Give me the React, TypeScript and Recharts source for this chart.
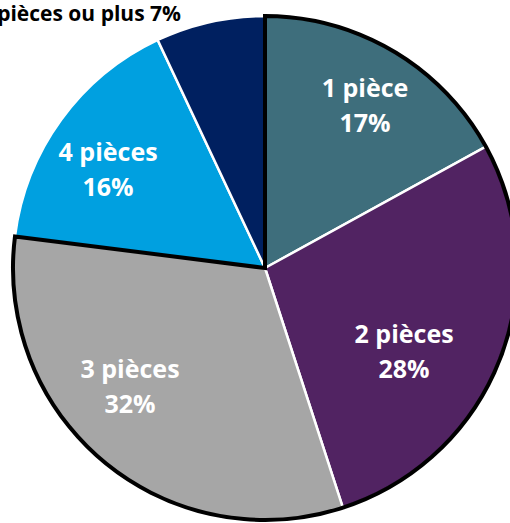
import React from 'react';
import { PieChart, Pie, Cell } from 'recharts';

// ---- data ----
const categories = ['1 pièce', '2 pièces', '3 pièces', '4 pièces', '5 pièces ou plus'];
const shares = [17, 28, 32, 16, 7];
const colors = ['#3E6E7C', '#512362', '#A6A6A6', '#00A0E0', '#002060'];
const outlined = [true, true, true, false, false];

const data = categories.map((name, i) => ({ name, value: shares[i] }));
const outlineData = [
  { name: 'outlined', value: shares.filter((_, i) => outlined[i]).reduce((a, b) => a + b, 0) },
  { name: 'rest', value: shares.filter((_, i) => !outlined[i]).reduce((a, b) => a + b, 0) },
];

// ---- label layout (radius fraction, angle shift in degrees, inside/outside) ----
const labelLayout = [
  { r: 0.755, shift: -1.1, inside: true },
  { r: 0.644, shift: -9.4, inside: true },
  { r: 0.714, shift: -9.0, inside: true },
  { r: 0.735, shift: 3.9, inside: true },
  { r: 1.035, shift: 6.2, inside: false },
];

const RAD = Math.PI / 180;
const FONT = '"Open Sans", "DejaVu Sans", sans-serif';

const renderLabel = (props: any) => {
  const { cx, cy, midAngle, outerRadius, index, name, value } = props;
  const lay = labelLayout[index];
  const ang = (midAngle + lay.shift) * RAD;
  const r = outerRadius * lay.r;
  const x = cx + r * Math.cos(-ang);
  const y = cy + r * Math.sin(-ang);
  if (lay.inside) {
    return (
      <text
        key={`lbl-${index}`}
        x={x}
        y={y}
        textAnchor="middle"
        fill="#FFFFFF"
        fontFamily={FONT}
        fontWeight={700}
        fontSize={25}
      >
        <tspan x={x} y={y - 9}>{name}</tspan>
        <tspan x={x} y={y + 26}>{`${value}%`}</tspan>
      </text>
    );
  }
  return (
    <text
      key={`lbl-${index}`}
      x={x}
      y={y}
      textAnchor="end"
      fill="#000000"
      fontFamily={FONT}
      fontWeight={700}
      fontSize={21}
    >
      {`${name} ${value}%`}
    </text>
  );
};

export default function App() {
  return (
    <div style={{ position: 'absolute', left: 0, top: 0, width: 510, height: 523, background: '#FFFFFF', overflow: 'hidden' }}>
      <PieChart width={510} height={523} margin={{ top: 0, right: 0, bottom: 0, left: 0 }}>
        <Pie
          data={data}
          dataKey="value"
          nameKey="name"
          cx={265}
          cy={268}
          outerRadius={252}
          startAngle={90}
          endAngle={-270}
          stroke="#FFFFFF"
          strokeWidth={2.5}
          label={renderLabel}
          labelLine={false}
          isAnimationActive={false}
        >
          {data.map((d, i) => (
            <Cell key={d.name} fill={colors[i]} />
          ))}
        </Pie>
        <Pie
          data={outlineData}
          dataKey="value"
          nameKey="name"
          cx={265}
          cy={268}
          outerRadius={252}
          startAngle={90}
          endAngle={-270}
          isAnimationActive={false}
          label={false}
          labelLine={false}
        >
          {outlineData.map((d, i) => (
            <Cell key={d.name} fill="none" stroke={i === 0 ? '#000000' : 'none'} strokeWidth={4} />
          ))}
        </Pie>
      </PieChart>
    </div>
  );
}
